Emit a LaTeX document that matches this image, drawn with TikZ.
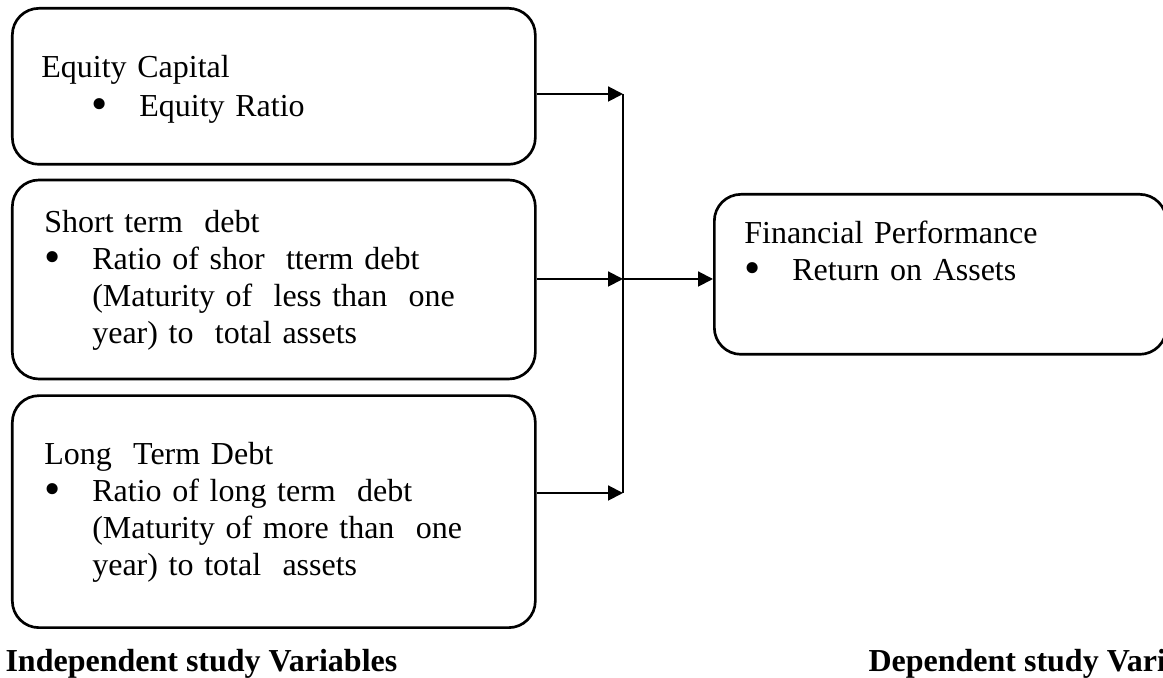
\documentclass[tikz,border=0pt]{standalone}
\usepackage{fontspec}
\setmainfont{Liberation Serif}
\usetikzlibrary{positioning,arrows.meta}

\def\px{0.375pt}
\newcommand{\itembul}{\makebox[18pt][l]{\raisebox{-1.1pt}{\scalebox{1.45}{\textbullet}}}}
\newcommand{\itemgap}{\hspace*{18pt}}
\tikzstyle{varbox}=[draw, line width=1pt, rounded corners=10pt, inner ysep=0pt, align=left, font=\fontsize{12pt}{13.875pt}\selectfont]
\tikzstyle{link}=[line width=0.75pt, -{Triangle[length=5.6pt,width=5.6pt]}]
\tikzstyle{bus}=[line width=0.45pt]
\tikzstyle{caption}=[font=\fontsize{12pt}{13.875pt}\selectfont\bfseries, anchor=base west, inner sep=0pt]

\begin{document}
\begin{tikzpicture}[x=\px, y=\px]
       \useasboundingbox (0,0) rectangle (1163,678);
       \clip (0,0) rectangle (1163,678);

       % independent variables
       \node[varbox, anchor=north west, inner xsep=10.875pt, text width=174.375pt, text height=25.875pt, text depth=32.625pt] (equity) at (11,671)
           {Equity Capital\\[1pt] \hspace*{18.75pt}\itembul Equity Ratio};
       \node[varbox, below=4.875pt of equity, inner xsep=12pt, text width=172.125pt, text height=19.875pt, text depth=54.75pt] (short)
           {Short term\ \ debt\\ \itembul Ratio of shor\ \ tterm debt\\ \itemgap(Maturity of\ \ less than\ \ one\\ \itemgap year) to\ \ total assets};
       \node[varbox, below=5.25pt of short, inner xsep=12pt, text width=172.125pt, text height=25.875pt, text depth=61.125pt] (long)
           {Long\ \ Term Debt\\ \itembul Ratio of long term\ \ debt\\ \itemgap(Maturity of more than\ \ one\\ \itemgap year) to total\ \ assets};

       % dependent variable
       \node[varbox, anchor=north west, inner xsep=11.25pt, text width=147pt, text height=18.375pt, text depth=41.625pt] (perf) at (713,485)
           {Financial Performance\\ \itembul Return on Assets};

       \coordinate (bus top) at (623,584);
       \coordinate (bus mid) at (623,399);
       \coordinate (bus bot) at (623,185);
       \draw[bus] (bus top) -- (bus bot);
       \draw[link] (equity.east |- bus top) -- (bus top);
       \draw[link] (short.east |- bus mid) -- (bus mid);
       \draw[link] (long.east |- bus bot) -- (bus bot);
       \draw[link] (bus mid) -- (bus mid -| perf.west);

       \node[caption] (indep) at (5,6) {Independent study Variables};
       \node[caption] (dep) at (868,6) {Dependent study Variables};
\end{tikzpicture}
\end{document}
